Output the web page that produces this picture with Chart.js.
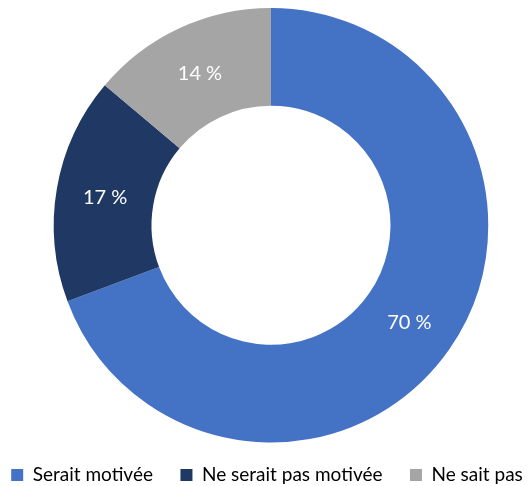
<!DOCTYPE html>
<html><head><meta charset="utf-8">
<script src="https://cdn.jsdelivr.net/npm/chart.js@4"></script>
<style>
html,body{margin:0;padding:0;background:#fff;overflow:hidden;width:528px;height:486px}
#wrap{position:absolute;left:-29px;top:0;width:600px;height:499px}
</style></head>
<body>
<div id="wrap"><canvas id="c" width="600" height="499"></canvas></div>
<script>
const categories = ["Serait motivée", "Ne serait pas motivée", "Ne sait pas"];
const values = [70, 17, 14];
const valueLabels = ["70 %", "17 %", "14 %"];
const colors = ["#4472C4", "#203864", "#A5A5A5"];

const labelPlugin = {
  id: 'sliceLabels',
  afterLayout(chart) {
    const lg = chart.legend;
    if (lg) { lg.left -= 4; lg.right -= 4; lg.top -= 4.5; lg.bottom -= 4.5; }
  },
  afterDatasetsDraw(chart) {
    const ctx = chart.ctx;
    const meta = chart.getDatasetMeta(0);
    ctx.save();
    ctx.fillStyle = '#fff';
    ctx.font = '20px Lato, "Open Sans", sans-serif';
    ctx.textAlign = 'center';
    ctx.textBaseline = 'middle';
    meta.data.forEach((arc, i) => {
      const p = arc.tooltipPosition();
      ctx.fillText(valueLabels[i], p.x, p.y + 1);
    });
    ctx.restore();
  }
};

new Chart(document.getElementById('c'), {
  type: 'doughnut',
  data: {
    labels: categories,
    datasets: [{ data: values, backgroundColor: colors, borderWidth: 0, hoverOffset: 0 }]
  },
  options: {
    responsive: false,
    animation: false,
    cutout: '55%',
    layout: { padding: { top: 8, bottom: 0 } },
    plugins: {
      tooltip: { enabled: false },
      legend: {
        position: 'bottom',
        labels: {
          boxWidth: 12, boxHeight: 12,
          padding: 27.5,
          color: '#000',
          font: { family: 'Lato, "Open Sans", sans-serif', size: 19 }
        }
      }
    }
  },
  plugins: [labelPlugin]
});
</script>
</body></html>
